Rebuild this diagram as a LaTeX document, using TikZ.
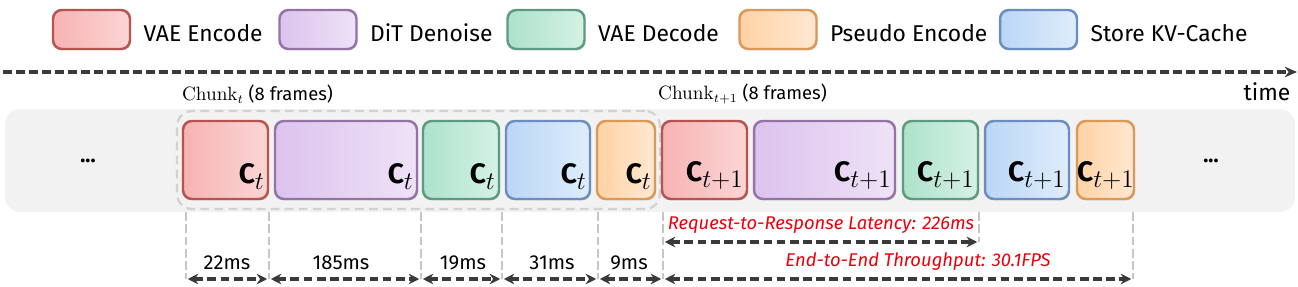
\documentclass[tikz,border=0pt]{standalone}
\usepackage[no-math]{fontspec}
\setmainfont{Fira Sans}
\usepackage{tikz}
\usetikzlibrary{arrows.meta,positioning,shadows}

\definecolor{encline}{HTML}{B85450}
\definecolor{encA}{HTML}{F7B3B3}
\definecolor{encB}{HTML}{FBD5D5}
\definecolor{ditline}{HTML}{9673A6}
\definecolor{ditA}{HTML}{DCC3EE}
\definecolor{ditB}{HTML}{EFE2F7}
\definecolor{decline}{HTML}{5C9A84}
\definecolor{decA}{HTML}{ADE2CB}
\definecolor{decB}{HTML}{D5F1E5}
\definecolor{kvline}{HTML}{6C8EBF}
\definecolor{kvA}{HTML}{BAD6F6}
\definecolor{kvB}{HTML}{DFEDFB}
\definecolor{psline}{HTML}{D9995A}
\definecolor{psA}{HTML}{FFD2A6}
\definecolor{psB}{HTML}{FFE8D2}
\definecolor{bandgray}{HTML}{F2F2F2}
\definecolor{darkline}{HTML}{3A3A3A}
\definecolor{redtext}{HTML}{E8000B}

% chunk label inside a stage box
\newcommand{\chunklab}[1]{\textbf{C}\raisebox{-3.5pt}{\fontsize{15}{15}\selectfont$#1$}}

\begin{document}
\begin{tikzpicture}[
    x=0.02cm, y=-0.02cm,
    blk/.style={rounded corners=5pt, line width=1.4pt, drop shadow={shadow xshift=0.6pt, shadow yshift=-0.8pt, opacity=0.25}},
    legbox/.style={blk, minimum width=1.54cm, minimum height=0.78cm},
    stage/.style={blk, minimum height=1.56cm, inner sep=0pt},
    enc/.style={draw=encline, left color=encA, right color=encB},
    dit/.style={draw=ditline, left color=ditA, right color=ditB},
    dec/.style={draw=decline, left color=decA, right color=decB},
    pse/.style={draw=psline, left color=psA, right color=psB},
    kv/.style={draw=kvline, left color=kvA, right color=kvB},
    legtxt/.style={inner sep=0pt, yshift=-2pt, font=\fontsize{13}{15}\selectfont},
    clab/.style={anchor=south east, inner sep=0pt, xshift=-0.1cm, yshift=0.2cm, font=\fontsize{16}{18}\selectfont},
    timeline/.style={draw=darkline, line width=1.9pt, dash pattern=on 5pt off 2.4pt, -{Stealth[length=7pt,width=6pt]}},
    guide/.style={draw=gray!45, line width=1.3pt, dash pattern=on 5pt off 2pt},
    durarrow/.style={draw=darkline, line width=1.8pt, dash pattern=on 5pt off 2.5pt, shorten <=1pt, shorten >=1pt, {Stealth[length=6pt,width=6pt]}-{Stealth[length=6pt,width=6pt]}},
    mslab/.style={font=\fontsize{11.5}{13}\selectfont},
    redlab/.style={text=redtext, font=\itshape\fontsize{10.5}{12}\selectfont}
]
\useasboundingbox (0,0) rectangle (1298,287);

% Legend
\node[legbox, enc] (lenc) at (91.5,29.5) {};
\node[legtxt, right=0.24cm of lenc] (tenc) {VAE Encode};
\node[legbox, dit] (ldit) at (318,29.5) {};
\node[legtxt, right=0.24cm of ldit] (tdit) {DiT Denoise};
\node[legbox, dec] (ldec) at (546,29.5) {};
\node[legtxt, right=0.24cm of ldec] (tdec) {VAE Decode};
\node[legbox, pse] (lpse) at (778,29.5) {};
\node[legtxt, right=0.24cm of lpse] (tpse) {Pseudo Encode};
\node[legbox, kv] (lkv) at (1038.5,29.5) {};
\node[legtxt, right=0.24cm of lkv] (tkv) {Store KV-Cache};

% Time axis
\coordinate (tstart) at (3,72);
\coordinate (tend) at (1297,72);
\draw[timeline] (tstart) -- (tend);
\node[font=\fontsize{10.5}{12}\selectfont] (chunk1) at (257.5,94) {$\mathrm{Chunk}_t$ (8 frames)};
\node[font=\fontsize{10.5}{12}\selectfont] (chunk2) at (742.5,94) {$\mathrm{Chunk}_{t+1}$ (8 frames)};
\node[font=\fontsize{13}{15}\selectfont] (time) at (1267,92) {time};

% Pipeline band
\node[fill=bandgray, rounded corners=0.3cm, minimum width=25.8cm, minimum height=2.06cm] (band) at (650,160.5) {};
\node[draw=gray!35, line width=1.3pt, dash pattern=on 5pt off 3pt, rounded corners=0.3cm, minimum width=9.66cm, minimum height=1.96cm] (chunkbox) at (418.5,160) {};
\node[font=\bfseries\fontsize{12}{14}\selectfont] (dotsl) at (88,161) {...};
\node[font=\bfseries\fontsize{12}{14}\selectfont] (dotsr) at (1211,161) {...};

% Chunk t
\node[stage, enc, minimum width=1.70cm] (enc1) at (225.5,160) {};
\node[stage, dit, minimum width=2.84cm] (dit1) at (346,160) {};
\node[stage, dec, minimum width=1.52cm] (dec1) at (461,160) {};
\node[stage, kv, minimum width=1.68cm] (kv1) at (548,160) {};
\node[stage, pse, minimum width=1.16cm] (pse1) at (626,160) {};
\node[clab] (cenc1) at (enc1.south east) {\chunklab{t}};
\node[clab] (cdit1) at (dit1.south east) {\chunklab{t}};
\node[clab] (cdec1) at (dec1.south east) {\chunklab{t}};
\node[clab] (ckv1) at (kv1.south east) {\chunklab{t}};
\node[clab] (cpse1) at (pse1.south east) {\chunklab{t}};

% Chunk t+1
\node[stage, enc, minimum width=1.70cm] (enc2) at (704.5,160) {};
\node[stage, dit, minimum width=2.82cm] (dit2) at (824.5,160) {};
\node[stage, dec, minimum width=1.50cm] (dec2) at (940.5,160) {};
\node[stage, kv, minimum width=1.68cm] (kv2) at (1027,160) {};
\node[stage, pse, minimum width=1.14cm] (pse2) at (1105.5,160) {};
\node[clab] (cenc2) at (enc2.south east) {\chunklab{t{+}1}};
\node[clab] (cdit2) at (dit2.south east) {\chunklab{t{+}1}};
\node[clab] (cdec2) at (dec2.south east) {\chunklab{t{+}1}};
\node[clab] (ckv2) at (kv2.south east) {\chunklab{t{+}1}};
\node[clab, xshift=0.08cm] (cpse2) at (pse2.south east) {\chunklab{t{+}1}};

% Guides
\foreach \x/\b [count=\i] in {186/279,269/279,421/279,502/279,598/279,663/279,979/242,1133/279}{
  \coordinate (gt\i) at (\x,212);
  \coordinate (gb\i) at (\x,\b);
  \draw[guide] (gt\i) -- (gb\i);
}

% Durations
\draw[durarrow] (gb1) -- (gb2);
\draw[durarrow] (gb2) -- (gb3);
\draw[durarrow] (gb3) -- (gb4);
\draw[durarrow] (gb4) -- (gb5);
\draw[durarrow] (gb5) -- (gb6);
\coordinate (lat0) at (663,242);
\draw[durarrow] (lat0) -- (gb7);
\draw[durarrow] (gb6) -- (gb8);

\node[mslab] (d1) at (227,263) {22ms};
\node[mslab] (d2) at (341,263) {185ms};
\node[mslab] (d3) at (463,263) {19ms};
\node[mslab] (d4) at (552,263) {31ms};
\node[mslab] (d5) at (629,263) {9ms};
\node[redlab] (lat) at (821,225) {Request-to-Response Latency: 226ms};
\node[redlab] (thr) at (918,262) {End-to-End Throughput: 30.1FPS};

\end{tikzpicture}
\end{document}
